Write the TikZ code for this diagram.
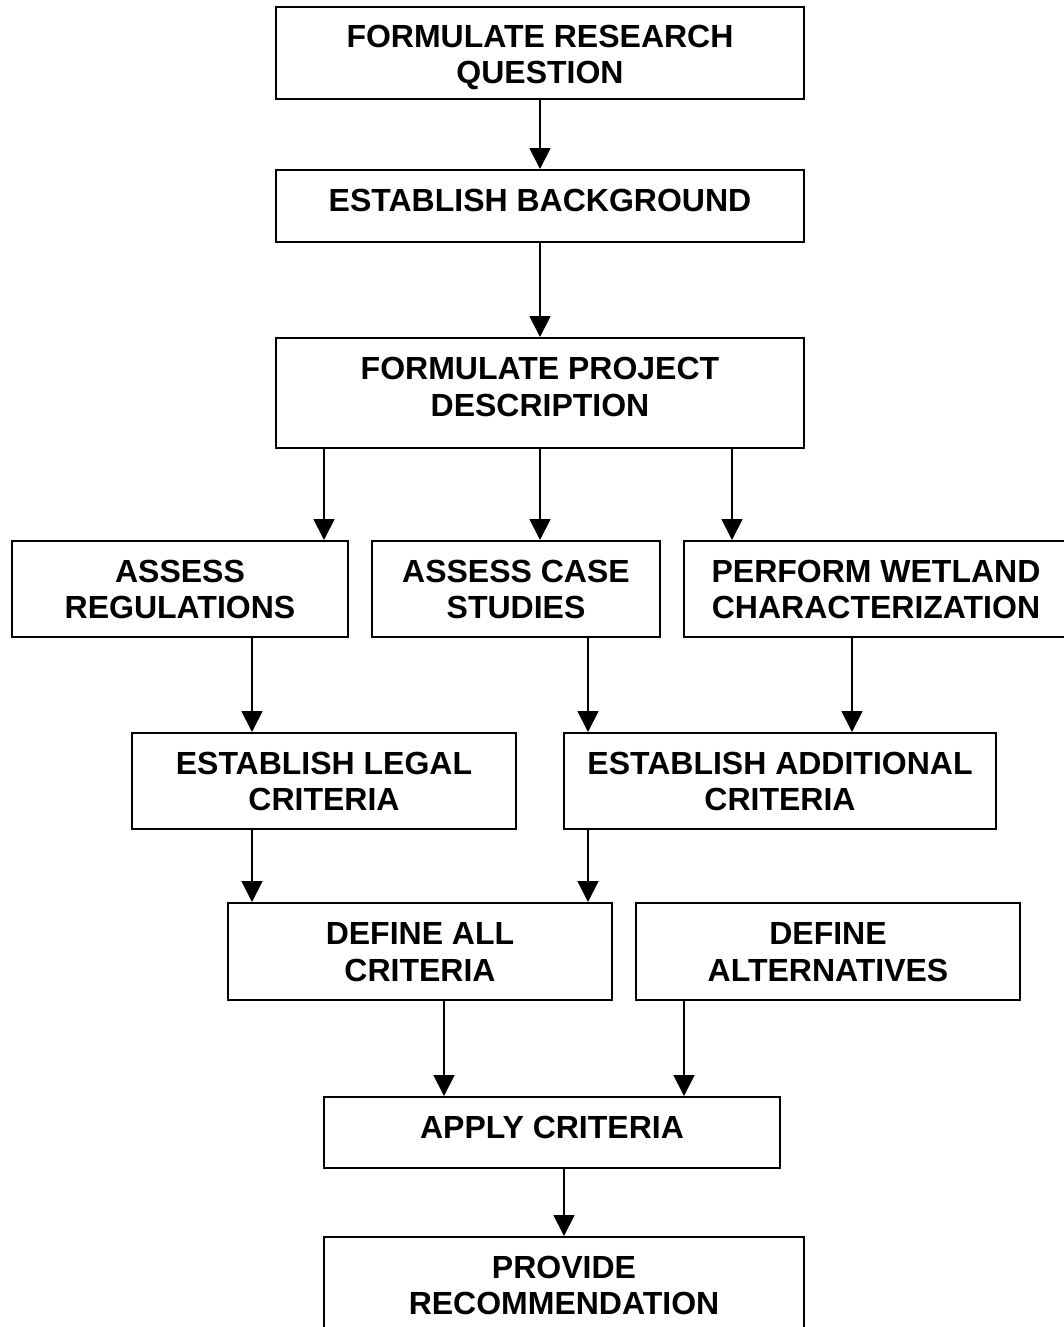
\documentclass[tikz,border=0pt]{standalone}
\usepackage{fontspec}
\setmainfont{Liberation Sans}
\usetikzlibrary{arrows.meta}
\begin{document}
\begin{tikzpicture}[x=1pt,y=-1pt,
  box/.style={draw, line width=2pt, rectangle, inner sep=0pt},
  lbl/.style={font=\fontsize{32}{36.5}\selectfont\bfseries, align=center, inner sep=0pt},
  arr/.style={line width=1.8pt, -{Triangle[width=21pt,length=21pt]}}]
\useasboundingbox (0,0) rectangle (1063,1327);
\fill[white] (0,0) rectangle (1063,1327);
% boxes
\node[box, minimum width=528pt, minimum height=92pt]  (b1)  at (540,53) {};
\node[box, minimum width=528pt, minimum height=72pt]  (b2)  at (540,206) {};
\node[box, minimum width=528pt, minimum height=110pt] (b3)  at (540,393) {};
\node[box, minimum width=336pt, minimum height=96pt]  (b4)  at (180,589) {};
\node[box, minimum width=288pt, minimum height=96pt]  (b5)  at (516,589) {};
\node[box, minimum width=384pt, minimum height=96pt]  (b6)  at (876,589) {};
\node[box, minimum width=384pt, minimum height=96pt]  (b7)  at (324,781) {};
\node[box, minimum width=432pt, minimum height=96pt]  (b8)  at (780,781) {};
\node[box, minimum width=384pt, minimum height=97pt]  (b9)  at (420,951.5) {};
\node[box, minimum width=384pt, minimum height=97pt]  (b10) at (828,951.5) {};
\node[box, minimum width=456pt, minimum height=71pt]  (b11) at (552,1132.5) {};
\node[box, minimum width=480pt, minimum height=108pt] (b12) at (564,1291) {};
% labels
\node[lbl] (t1)  at (540,57.5)  {FORMULATE RESEARCH\\QUESTION};
\node[lbl] (t2)  at (540,200.5) {ESTABLISH BACKGROUND};
\node[lbl] (t3)  at (540,387)   {FORMULATE PROJECT\\DESCRIPTION};
\node[lbl] (t4)  at (180,589.5) {ASSESS\\REGULATIONS};
\node[lbl] (t5)  at (516,589.5) {ASSESS CASE\\STUDIES};
\node[lbl] (t6)  at (876,589.5) {PERFORM WETLAND\\CHARACTERIZATION};
\node[lbl] (t7)  at (324,781.5) {ESTABLISH LEGAL\\CRITERIA};
\node[lbl] (t8)  at (780,781.5) {ESTABLISH ADDITIONAL\\CRITERIA};
\node[lbl] (t9)  at (420,952)   {DEFINE ALL\\CRITERIA};
\node[lbl] (t10) at (828,952)   {DEFINE\\ALTERNATIVES};
\node[lbl] (t11) at (552,1127.5) {APPLY CRITERIA};
\node[lbl] (t12) at (564,1285.5) {PROVIDE\\RECOMMENDATION};
% connectors
\draw[arr] (540,0 |- b1.south) -- (540,0 |- b2.north);
\draw[arr] (540,0 |- b2.south) -- (540,0 |- b3.north);
\draw[arr] (324,0 |- b3.south) -- (324,0 |- b4.north);
\draw[arr] (540,0 |- b3.south) -- (540,0 |- b5.north);
\draw[arr] (732,0 |- b3.south) -- (732,0 |- b6.north);
\draw[arr] (252,0 |- b4.south) -- (252,0 |- b7.north);
\draw[arr] (588,0 |- b5.south) -- (588,0 |- b8.north);
\draw[arr] (852,0 |- b6.south) -- (852,0 |- b8.north);
\draw[arr] (252,0 |- b7.south) -- (252,0 |- b9.north);
\draw[arr] (588,0 |- b8.south) -- (588,0 |- b9.north);
\draw[arr] (444,0 |- b9.south) -- (444,0 |- b11.north);
\draw[arr] (684,0 |- b10.south) -- (684,0 |- b11.north);
\draw[arr] (564,0 |- b11.south) -- (564,0 |- b12.north);
\end{tikzpicture}
\end{document}
